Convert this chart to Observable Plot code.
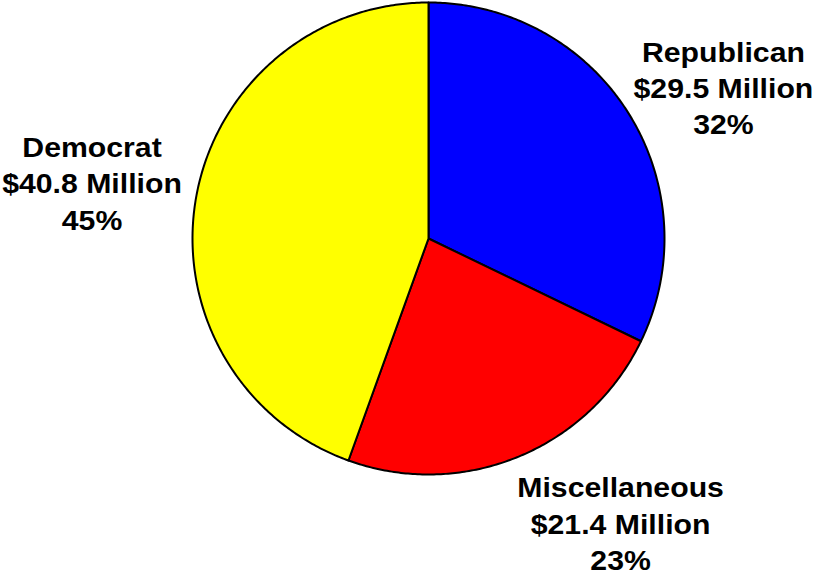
<!DOCTYPE html>
<html>
<head>
<meta charset="utf-8">
<script src="https://cdn.jsdelivr.net/npm/d3@7"></script>
<script src="https://cdn.jsdelivr.net/npm/@observablehq/plot@0.6"></script>
<style>
  html, body { margin: 0; padding: 0; background: #fff; }
  #chart svg { display: block; }
</style>
</head>
<body>
<div id="chart"></div>
<script>
// ---- data ----
const parties = ["Republican", "Miscellaneous", "Democrat"];
const amounts = [29.5, 21.4, 40.8];            // $ Million
const percentLabels = ["32%", "23%", "45%"];
const colors = ["#0000FF", "#FF0000", "#FFFF00"];

// ---- build slices from data ----
const pie = d3.pie().sort(null).value((d, i) => amounts[i])(parties);
const slicePoints = [];
pie.forEach((p, i) => {
  const name = parties[i];
  slicePoints.push({name, x: 0, y: 0});
  const n = Math.max(2, Math.ceil((p.endAngle - p.startAngle) / 0.01));
  for (let k = 0; k <= n; k++) {
    const a = p.startAngle + (p.endAngle - p.startAngle) * k / n;
    slicePoints.push({name, x: Math.sin(a), y: Math.cos(a)});
  }
  slicePoints.push({name, x: 0, y: 0});
});

// label anchors: slice mid-angle on the rim, then pixel offsets
const labelOffsets = {Republican: [95, -27], Miscellaneous: [103, 65], Democrat: [-104, -16]};
const labels = pie.map((p, i) => {
  const a = (p.startAngle + p.endAngle) / 2;
  const name = parties[i];
  return {
    name,
    x: Math.sin(a), y: Math.cos(a),
    text: `${name}\n$${amounts[i].toFixed(1)} Million\n${percentLabels[i]}`,
    dx: labelOffsets[name][0], dy: labelOffsets[name][1]
  };
});

const chart = Plot.plot({
  width: 817,
  height: 572,
  margin: 0,
  x: {domain: [-1, 1], range: [192, 664], axis: null},
  y: {domain: [-1, 1], range: [474, 2], axis: null},
  color: {domain: parties, range: colors},
  marks: [
    Plot.line(slicePoints, {x: "x", y: "y", z: "name", fill: "name", stroke: "black", strokeWidth: 2, strokeLinejoin: "round", curve: "linear"}),
    ...labels.map(l => Plot.text([l], {
      x: "x", y: "y", text: "text",
      dx: l.dx, dy: l.dy,
      fontSize: 27, fontWeight: "bold", fontFamily: "Liberation Sans, Arial, sans-serif",
      lineHeight: 1.34, fill: "black", textAnchor: "middle",
      className: "pie-label"
    }))
  ]
});

// widen label glyphs horizontally (reference text is horizontally stretched)
const sx = 1.12;
d3.select(chart).selectAll("g.pie-label text").each(function() {
  const t = d3.select(this);
  const tr = t.attr("transform");
  if (tr) {
    t.attr("transform", tr + ` scale(${sx},1)`);
  } else {
    const x = +t.attr("x") || 0, y = +t.attr("y") || 0;
    t.attr("transform", `translate(${x},${y}) scale(${sx},1) translate(${-x},${-y})`);
  }
});
document.getElementById("chart").append(chart);
</script>
</body>
</html>
